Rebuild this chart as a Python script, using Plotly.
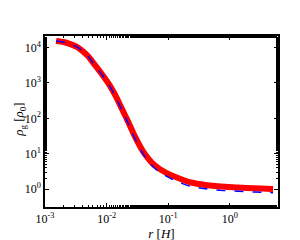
import plotly.graph_objects as go

# values (log10 units)
logr = [-2.82, -2.70, -2.60, -2.49, -2.40, -2.30, -2.22, -2.10, -1.95, -1.85, -1.75, -1.65, -1.55,
        -1.41, -1.33, -1.25, -1.17, -1.10, -0.98, -0.80, -0.63, -0.40, -0.15, 0.13, 0.40, 0.70]
red_logrho = [4.18, 4.15, 4.10, 4.02, 3.91, 3.75, 3.57, 3.30, 2.93, 2.62, 2.26, 1.90, 1.52,
              1.07, 0.88, 0.72, 0.61, 0.53, 0.42, 0.29, 0.19, 0.12, 0.075, 0.05, 0.025, 0.008]
blue_logrho = [4.18, 4.15, 4.10, 4.02, 3.91, 3.75, 3.56, 3.29, 2.91, 2.59, 2.22, 1.85, 1.46,
               1.00, 0.80, 0.64, 0.52, 0.44, 0.32, 0.18, 0.08, 0.015, -0.03, -0.054, -0.078, -0.097]

xtick_vals = [1e-3, 1e-2, 1e-1, 1e0]
xtick_text = ["10<sup>-3</sup>", "10<sup>-2</sup>", "10<sup>-1</sup>", "10<sup>0</sup>"]
ytick_vals = [1e0, 1e1, 1e2, 1e3, 1e4]
ytick_text = ["10<sup>0</sup>", "10<sup>1</sup>", "10<sup>2</sup>", "10<sup>3</sup>", "10<sup>4</sup>"]

r = [10**v for v in logr]
rho_red = [10**v for v in red_logrho]
rho_blue = [10**v for v in blue_logrho]

fig = go.Figure()
fig.add_trace(go.Scatter(x=r, y=rho_red, mode="lines",
                         line=dict(color="#ff0000", width=6, shape="spline", smoothing=0.7),
                         showlegend=False))
fig.add_trace(go.Scatter(x=r, y=rho_blue, mode="lines",
                         line=dict(color="#0000ff", width=1.4, dash="dash", shape="spline", smoothing=0.7),
                         showlegend=False))

font = dict(family="Liberation Serif", size=12, color="black")
title_font = dict(family="Liberation Serif", size=13, color="black")
axis_common = dict(type="log", showline=True, linewidth=1.5, linecolor="black", mirror="ticks",
                   ticks="inside", ticklen=4, tickwidth=1, tickcolor="black", showgrid=False, zeroline=False,
                   tickfont=font,
                   minor=dict(ticks="inside", ticklen=2, tickwidth=1, tickcolor="black", showgrid=False))
fig.update_xaxes(range=[-3, 0.78], tickvals=xtick_vals, ticktext=xtick_text,
                 title=dict(text="<i>r</i> [<i>H</i>]", font=title_font, standoff=1),
                 **axis_common)
fig.update_yaxes(range=[-0.5, 4.32], tickvals=ytick_vals, ticktext=ytick_text, **axis_common)
fig.add_annotation(text="<i>ρ</i><sub>g</sub> [<i>ρ</i><sub>0</sub>]", font=title_font,
                   textangle=-90, xref="paper", yref="paper", x=-0.107, y=0.51,
                   xanchor="center", yanchor="middle", showarrow=False)
fig.update_layout(width=300, height=240, margin=dict(l=37, r=30, t=28, b=27),
                  plot_bgcolor="white", paper_bgcolor="white", font=font)
fig.write_html("out.html")
